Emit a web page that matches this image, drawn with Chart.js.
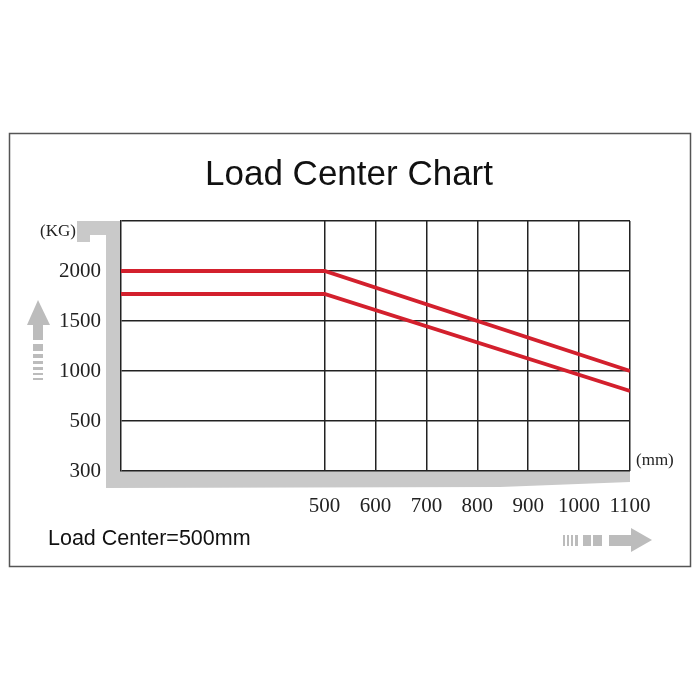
<!DOCTYPE html>
<html>
<head>
<meta charset="utf-8">
<script src="https://cdn.jsdelivr.net/npm/chart.js@4/dist/chart.umd.min.js"></script>
<style>
  html, body { margin: 0; padding: 0; background: #fff; }
  #wrap { width: 700px; height: 700px; }
</style>
</head>
<body>
<div id="wrap"><canvas id="loadChart" width="700" height="700"></canvas></div>
<script>
// load center (mm) where the curves bend
const loadCenters = [100, 500, 1100];
// rated capacity (kg) for the two curves
const upperCapacity = [2000, 2000, 1000];
const lowerCapacity = [1770, 1770, 800];

const xTickValues = [500, 600, 700, 800, 900, 1000, 1100];
const xTickLabels = ['500', '600', '700', '800', '900', '1000', '1100'];
const yTickValues = [0, 500, 1000, 1500, 2000, 2500];
const yTickLabels = ['300', '500', '1000', '1500', '2000', ''];

const RED = '#d3202d';
const GRID = '#222';
const GRAY = '#c9c9c9';
const ARROW = '#bcbcbc';

function toPoints(xs, ys) {
  return xs.map((x, i) => ({ x: x, y: ys[i] }));
}

// frame, gray axis bracket, arrows and loose labels
const decor = {
  id: 'decor',
  beforeDraw(chart) {
    const ctx = chart.ctx;
    const a = chart.chartArea;
    ctx.save();
    ctx.fillStyle = '#fff';
    ctx.fillRect(0, 0, chart.width, chart.height);

    ctx.strokeStyle = '#555';
    ctx.lineWidth = 1.5;
    ctx.strokeRect(9.5, 133.5, 681, 433);

    // gray bracket around left and bottom axes
    ctx.fillStyle = GRAY;
    ctx.beginPath();
    ctx.moveTo(77, a.top);
    ctx.lineTo(a.left, a.top);
    ctx.lineTo(a.left, a.bottom);
    ctx.lineTo(a.right, a.bottom);
    ctx.lineTo(a.right, a.bottom + 11);
    ctx.lineTo(500, a.bottom + 16);
    ctx.lineTo(106, a.bottom + 17);
    ctx.lineTo(106, a.top + 14);
    ctx.lineTo(90, a.top + 14);
    ctx.lineTo(90, a.top + 21);
    ctx.lineTo(77, a.top + 21);
    ctx.closePath();
    ctx.fill();

    // up arrow
    ctx.fillStyle = ARROW;
    ctx.beginPath();
    ctx.moveTo(38, 300);
    ctx.lineTo(50, 325);
    ctx.lineTo(27, 325);
    ctx.closePath();
    ctx.fill();
    ctx.fillRect(33, 325, 10, 15);
    [[344, 7], [354, 4], [361, 3], [367, 3], [373, 2], [378, 2]].forEach(([y, h]) => {
      ctx.fillRect(33, y, 10, h);
    });

    // right arrow
    ctx.beginPath();
    ctx.moveTo(652, 540);
    ctx.lineTo(631, 528);
    ctx.lineTo(631, 552);
    ctx.closePath();
    ctx.fill();
    ctx.fillRect(609, 535, 22, 11);
    [[563, 2], [567, 2], [571, 2], [575, 3], [583, 8], [593, 9]].forEach(([x, w]) => {
      ctx.fillRect(x, 535, w, 11);
    });
    ctx.restore();
  },
  afterDraw(chart) {
    const ctx = chart.ctx;
    ctx.save();
    ctx.fillStyle = '#111';
    ctx.textAlign = 'center';
    ctx.textBaseline = 'alphabetic';
    ctx.font = '35px "Liberation Sans"';
    ctx.fillText('Load Center Chart', 349, 185);

    ctx.fillStyle = '#222';
    ctx.textAlign = 'left';
    ctx.textBaseline = 'middle';
    ctx.font = '17px "Liberation Serif"';
    ctx.fillText('(KG)', 40, 232);
    ctx.fillText('(mm)', 636, 461);

    ctx.fillStyle = '#111';
    ctx.font = '21.5px "Liberation Sans"';
    ctx.fillText('Load Center=500mm', 48, 539);
    ctx.restore();
  }
};

new Chart(document.getElementById('loadChart'), {
  type: 'line',
  data: {
    datasets: [
      {
        label: 'Upper',
        data: toPoints(loadCenters, upperCapacity),
        borderColor: RED,
        borderWidth: 3.8,
        pointRadius: 0,
        tension: 0
      },
      {
        label: 'Lower',
        data: toPoints(loadCenters, lowerCapacity),
        borderColor: RED,
        borderWidth: 3.8,
        pointRadius: 0,
        tension: 0
      }
    ]
  },
  options: {
    responsive: false,
    animation: false,
    layout: { padding: { left: 10, right: 70, top: 221, bottom: 169 } },
    plugins: {
      legend: { display: false },
      tooltip: { enabled: false },
      title: { display: false }
    },
    scales: {
      x: {
        type: 'linear',
        min: 100,
        max: 1100,
        afterBuildTicks: s => { s.ticks = xTickValues.map(v => ({ value: v })); },
        afterFit: s => { s.height = 60; },
        grid: { color: GRID, lineWidth: 1.5, drawTicks: false },
        border: { display: false },
        ticks: {
          color: '#222',
          padding: 23,
          maxRotation: 0,
          autoSkip: false,
          font: { family: 'Liberation Serif', size: 21 },
          callback: (v, i) => xTickLabels[i]
        }
      },
      y: {
        type: 'linear',
        min: 0,
        max: 2500,
        afterBuildTicks: s => { s.ticks = yTickValues.map(v => ({ value: v })); },
        afterFit: s => { s.width = 111; },
        grid: { color: GRID, lineWidth: 1.5, drawTicks: false },
        border: { display: true, color: GRID, width: 1.5 },
        ticks: {
          color: '#222',
          padding: 20,
          autoSkip: false,
          font: { family: 'Liberation Serif', size: 21 },
          callback: (v, i) => yTickLabels[i]
        }
      }
    }
  },
  plugins: [decor]
});
</script>
</body>
</html>
